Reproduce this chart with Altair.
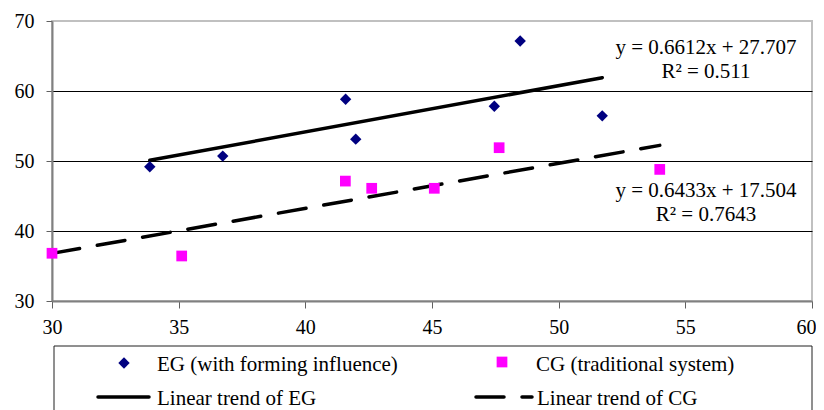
import altair as alt
import pandas as pd

# ---- data ----
EG_X = [33.86, 36.74, 41.59, 41.99, 47.46, 48.48, 51.72]
EG_Y = [49.17, 50.70, 58.83, 53.12, 57.83, 67.15, 56.45]
CG_X = [30.00, 35.12, 41.58, 42.62, 45.09, 47.65, 53.99]
CG_Y = [36.82, 36.43, 47.13, 46.10, 46.10, 51.90, 48.80]

EG_SLOPE, EG_INTERCEPT, EG_R2 = 0.6612, 27.707, "0.511"
CG_SLOPE, CG_INTERCEPT, CG_R2 = 0.6433, 17.504, "0.7643"

X_TICKS = [30, 35, 40, 45, 50, 55, 60]
Y_TICKS = [30, 40, 50, 60, 70]

LEGEND_LABELS = [
    "EG (with forming influence)",
    "CG (traditional system)",
    "Linear trend of EG",
    "Linear trend of CG",
]

FONT = "Liberation Serif"
W, H = 760, 280
DIAMOND_SIZE, SQUARE_SIZE = 130, 115

eg = pd.DataFrame({"x": EG_X, "y": EG_Y, "group": "EG"})
cg = pd.DataFrame({"x": CG_X, "y": CG_Y, "group": "CG"})

xs = alt.Scale(domain=[30, 60], nice=False, zero=False)
ys = alt.Scale(domain=[30, 70], nice=False, zero=False)

xax = alt.Axis(values=X_TICKS, grid=False, tickSize=7, labelPadding=9,
               labelFlush=False, labelOverlap=False,
               labelOffset={"condition": {"test": "datum.value === 60", "value": -6},
                            "value": 0},
               domainColor="#808080", domainWidth=2, tickColor="#606060")
yax = alt.Axis(values=Y_TICKS, grid=True, tickSize=6, labelPadding=12,
               labelFlush=False, labelOverlap=False,
               domainColor="#808080", domainWidth=2, tickColor="#606060",
               gridColor={"condition": {"test": "datum.value === 70 || datum.value === 30",
                                        "value": "transparent"},
                          "value": "black"},
               gridWidth=1)

base_x = alt.X("x:Q", scale=xs, axis=xax, title=None)
base_y = alt.Y("y:Q", scale=ys, axis=yax, title=None)


def trend(df, slope, intercept, dash):
    c = (alt.Chart(df)
         .transform_joinaggregate(xmin="min(x)", xmax="max(x)")
         .transform_filter("datum.x == datum.xmin || datum.x == datum.xmax")
         .transform_calculate(fit=f"{slope} * datum.x + {intercept}"))
    kw = dict(color="black", strokeWidth=3.5, strokeCap="round")
    if dash:
        kw["strokeDash"] = [28, 18]
    return c.mark_line(**kw).encode(
        x=alt.X("x:Q", scale=xs, axis=xax, title=None),
        y=alt.Y("fit:Q", scale=ys, axis=yax, title=None),
    )


eg_trend = trend(eg, EG_SLOPE, EG_INTERCEPT, False)
cg_trend = trend(cg, CG_SLOPE, CG_INTERCEPT, True)

eg_pts = alt.Chart(eg).mark_point(shape="diamond", filled=True, color="#000080",
                                  size=DIAMOND_SIZE, opacity=1).encode(x=base_x, y=base_y)
cg_pts = alt.Chart(cg).mark_point(shape="square", filled=True, color="#ff00ff",
                                  size=SQUARE_SIZE, opacity=1).encode(x=base_x, y=base_y)

one = alt.Data(values=[{"k": 0}])


def txt(text, x, y, align="left", size=21):
    return alt.Chart(one).mark_text(text=text, font=FONT, fontSize=size, color="black",
                                    align=align, baseline="alphabetic").encode(
        x=alt.value(x), y=alt.value(y))


eq_cx = 654
eq_texts = [
    txt(f"y = {EG_SLOPE}x + {EG_INTERCEPT}", eq_cx, 33, "center"),
    txt(f"R\u00b2 = {EG_R2}", eq_cx, 57, "center"),
    txt(f"y = {CG_SLOPE}x + {CG_INTERCEPT}", eq_cx, 176, "center"),
    txt(f"R\u00b2 = {CG_R2}", eq_cx, 200, "center"),
]


def rule(x, x2, y, y2, color="black", width=1, dash=None):
    kw = dict(color=color, strokeWidth=width)
    if dash:
        kw["strokeDash"] = dash
        kw["strokeCap"] = "round"
    elif width > 2:
        kw["strokeCap"] = "round"
    return alt.Chart(one).mark_rule(**kw).encode(
        x=alt.value(x), x2=alt.value(x2), y=alt.value(y), y2=alt.value(y2))


legend_box = [
    rule(2, 760, 325, 325, "#202020", 1),
    rule(2, 2, 325, 420, "#202020", 1),
    rule(760, 760, 325, 420, "#202020", 1),
]

leg_eg = alt.Chart(one).mark_point(shape="diamond", filled=True, color="#000080",
                                   size=DIAMOND_SIZE, opacity=1).encode(x=alt.value(72), y=alt.value(342))
leg_cg = alt.Chart(one).mark_point(shape="square", filled=True, color="#ff00ff",
                                   size=SQUARE_SIZE, opacity=1).encode(x=alt.value(450), y=alt.value(341))
leg_l1 = rule(46, 97, 376, 376, "black", 3.5)
leg_l2 = rule(424, 480, 376, 376, "black", 3.5, dash=[28, 18])

leg_texts = [
    txt(LEGEND_LABELS[0], 105, 350),
    txt(LEGEND_LABELS[1], 484, 350),
    txt(LEGEND_LABELS[2], 105, 384),
    txt(LEGEND_LABELS[3], 485, 384),
]

chart = alt.layer(
    eg_trend, cg_trend, eg_pts, cg_pts, *eq_texts, *legend_box,
    leg_eg, leg_cg, leg_l1, leg_l2, *leg_texts
).properties(
    width=W, height=H,
    autosize=alt.AutoSizeParams(type="none"),
    padding={"left": 44, "top": 13, "right": 4, "bottom": 109},
).configure_view(
    stroke="#c0c0c0", strokeWidth=2
).configure_axis(
    labelFont=FONT, labelFontSize=20, labelColor="black"
)

chart.save("out.html", embed_options={"renderer": "svg", "actions": False})
